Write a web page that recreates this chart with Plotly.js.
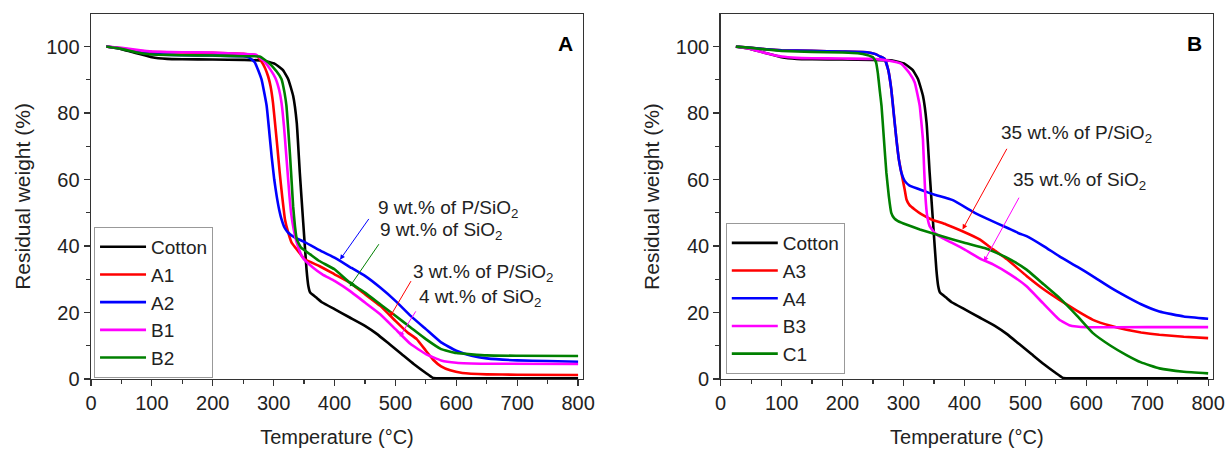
<!DOCTYPE html>
<html><head><meta charset="utf-8">
<script src="https://cdn.plot.ly/plotly-3.0.1.min.js"></script>
<style>html,body{margin:0;padding:0;background:#fff}#chart{width:1226px;height:451px}</style>
</head><body><div id="chart"></div>
<script>
// ---- Panel A data (temperature in °C, residual weight in %) ----
const cottonT = [25,50,75,100,125,150,200,250,282,302,315,324,332,338,343,348.6,354,357,360,370,380,400,425,450,470,490,510,530,550,562,580,650,800];
const cottonW = [100,99.2,98,96.8,96.3,96.2,96.1,96,95.8,94.8,93,90.2,85.2,77,62,47,33,28,26,24.5,23,21,18.5,16,13.5,10.5,7.5,4.5,1.8,0.3,0.2,0.2,0.2];

const a1T = [25,50,75,100,150,200,250,272,280,286,291,295,299,302,306,310,314,318.6,324,329.5,340,351,375,400,425,450,475,500,520,535,550,562,575,590,610,650,700,800];
const a1W = [100,99.5,98.8,98.4,98.2,98.1,97.8,97.3,95.5,93.5,91,88,83,77.5,70,62,55,48,44,41,38.5,36,34,31.5,29,25.5,22,17.5,14,12,8.5,5.8,3.8,2.6,1.8,1.4,1.3,1.2];

const a2T = [25,50,75,100,150,200,250,260,269,280,288.5,293,296.7,301,305,309,313,318,324,335,351,380,400,428,450,475,500,525,550,575,600,625,650,700,750,800];
const a2W = [100,99.4,98.4,97.8,97.4,97.3,97.1,96.7,95.3,90.2,82.2,74,67,60,55,51,48,45.5,44,42.5,41.2,38.3,36.5,33.4,31,27.5,23.5,19,15,11,8.5,7,6.2,5.6,5.4,5.2];

const b1T = [25,50,75,100,150,200,250,270,285,295,303,309,313,317,320,323,326,329,333,338,345,350,365,380,400,425,450,475,500,525,550,575,600,650,800];
const b1W = [100,99.6,99,98.5,98.3,98.2,97.8,97.6,95.5,93,90.5,87,83,76,69,62,55,49.5,45,41,37.5,36,33.5,31.5,29.5,26.5,23,19.5,15,10.5,7.5,5.6,4.9,4.6,4.5];

const b2T = [25,50,75,100,150,200,250,277,291,305,313,318,321,324,327,330,332,335,338,345,360,375,400,425,450,475,500,525,550,575,600,650,700,800];
const b2W = [100,99.3,98.2,97.6,97.4,97.3,97.1,97,95.3,92.5,90.2,86,82.2,75,67,58,52,46,42,39.5,37.5,35.5,33,29,26,22.5,19,15.5,12,9,7.8,7.1,7,6.9];

// ---- Panel B data ----
const a3T = [25,50,75,100,150,200,240,253,262,269,275,280,284,288.5,292.5,296.7,299,302,305,310,318.5,330,346,370,395,425,447,470,502,530,556,585,611,640,666,690,720,760,800];
const a3W = [100,99.6,99.2,98.9,98.7,98.5,98.3,97.8,97,96.3,93,87.2,80,72,66,62,59.8,57,54,52.3,51,49.5,48,46.5,44.6,42,39,36,31,27,23.8,20.5,17.8,16,14.8,14,13.3,12.7,12.3];

const a4T = [25,50,75,100,150,200,240,253,262,269,275,280,284,288.5,292.5,296.7,302,310,335,350,381,417,436,470,491,502,530,556,585,611,640,666,690,720,760,800];
const a4W = [100,99.6,99.2,98.9,98.7,98.5,98.3,97.8,97,96.3,93,87.2,80,72,66,62,59.6,58.2,56.5,55.5,53.8,50,48.3,45.5,43.7,43,40,36.9,33.8,30.9,27.5,24.8,22.5,20.3,18.8,18.1];

const b3T = [25,50,75,100,125,150,200,250,275,296.7,310,318.5,326.7,329,332,334,336,339,343,351,365,379,400,428,447,475,502,529,556,572,584,600,700,800];
const b3W = [100,99.2,98,97,96.6,96.5,96.4,96.3,95.8,94.8,92,89.2,82.2,78,72,63,55,49,46,44,42.3,41,39,36,34.5,31.5,27.9,22.8,17.8,16.2,15.8,15.6,15.6,15.6];

const c1T = [25,50,75,100,150,200,225,240,250,255,258,261,264,268,272,276,280,285,291,300,327,362,400,433,447,475,502,530,556,585,611,640,666,690,720,760,800];
const c1W = [100,99.6,99.1,98.7,98.4,98.2,98,97.5,96.8,95.3,92,87,82.2,72,62,55,50,48.3,47.5,46.8,45,43,41,39.4,38.4,36,32.9,28.5,24.4,19,13.8,10,7.2,5,3.2,2.2,1.7];

const legendA = ['Cotton','A1','A2','B1','B2'];
const legendB = ['Cotton','A3','A4','B3','C1'];
const colors = ['#000000','#ff0000','#0000ff','#ff00ff','#008000'];

const FONT = 'Liberation Sans, Arial, sans-serif';

function tr(x, y, name, color, xa, ya, leg) {
  return {x: x, y: y, name: name, type: 'scatter', mode: 'lines',
          line: {color: color, width: 2.6, shape: 'spline', smoothing: 0.35},
          xaxis: xa, yaxis: ya, legend: leg};
}

const seriesA = [[cottonT,cottonW],[a1T,a1W],[a2T,a2W],[b1T,b1W],[b2T,b2W]];
const seriesB = [[cottonT,cottonW],[a3T,a3W],[a4T,a4W],[b3T,b3W],[c1T,c1W]];
const data = [];
seriesA.forEach((s,i) => data.push(tr(s[0], s[1], legendA[i], colors[i], 'x', 'y', 'legend')));
seriesB.forEach((s,i) => data.push(tr(s[0], s[1], legendB[i], colors[i], 'x2', 'y2', 'legend2')));

function xax(domain, anchor) {
  return {domain: domain, anchor: anchor, range: [0, 808], tick0: 0, dtick: 100,
    ticks: 'outside', ticklen: 6, tickwidth: 1.2, tickcolor: '#333',
    minor: {ticks: 'outside', dtick: 50, ticklen: 4, tickwidth: 1.2, tickcolor: '#333'},
    showline: true, linecolor: '#333', linewidth: 1.4, mirror: true,
    showgrid: false, zeroline: false,
    tickfont: {family: FONT, size: 20, color: '#222'},
    title: {text: 'Temperature (°C)', font: {family: FONT, size: 20, color: '#222'}, standoff: 16}};
}
function yax(anchor) {
  return {domain: [0, 1], anchor: anchor, range: [0, 109.8], tick0: 0, dtick: 20,
    ticks: 'outside', ticklen: 6, tickwidth: 1.2, tickcolor: '#333',
    minor: {ticks: 'outside', dtick: 10, ticklen: 4, tickwidth: 1.2, tickcolor: '#333'},
    showline: true, linecolor: '#333', linewidth: 1.4, mirror: true,
    showgrid: false, zeroline: false,
    tickfont: {family: FONT, size: 20, color: '#222'},
    title: {text: 'Residual weight (%)', font: {family: FONT, size: 21, color: '#222'}, standoff: 10}};
}

function label(text, x, y, xr, yr) {
  return {text: text, x: x, y: y, xref: xr, yref: yr, showarrow: false,
          xanchor: 'center', yanchor: 'middle', font: {family: FONT, size: 19, color: '#222'}};
}
function arrow(hx, hy, tx, ty, color, xr, yr) {
  return {text: '', x: hx, y: hy, ax: tx, ay: ty, xref: xr, yref: yr, axref: xr, ayref: yr,
          showarrow: true, arrowhead: 2, arrowsize: 1, arrowwidth: 1, arrowcolor: color, standoff: 0};
}

const legStyle = (x, y) => ({x: x, y: y, xanchor: 'left', yanchor: 'bottom', bgcolor: '#ffffff',
  bordercolor: '#999', borderwidth: 1, font: {family: FONT, size: 19, color: '#222'},
  traceorder: 'normal', tracegroupgap: 0, itemwidth: 46});

const layout = {
  width: 1226, height: 451,
  margin: {l: 0, r: 0, t: 14, b: 72},
  paper_bgcolor: '#fff', plot_bgcolor: '#fff',
  showlegend: true,
  xaxis: xax([0.0742, 0.4755], 'y'),
  yaxis: yax('x'),
  xaxis2: xax([0.5878, 0.9894], 'y2'),
  yaxis2: yax('x2'),
  legend: legStyle(0.0767, 0.003),
  legend2: legStyle(0.592, 0.0137),
  annotations: [
    {text: '<b>A</b>', x: 780, y: 101, xref: 'x', yref: 'y', showarrow: false, font: {family: FONT, size: 21, color: '#000'}},
    {text: '<b>B</b>', x: 778, y: 101, xref: 'x2', yref: 'y2', showarrow: false, font: {family: FONT, size: 21, color: '#000'}},
    label('9 wt.% of P/SiO<sub>2</sub>', 586, 51, 'x', 'y'),
    label('9 wt.% of SiO<sub>2</sub>', 575, 44.4, 'x', 'y'),
    label('3 wt.% of P/SiO<sub>2</sub>', 644, 32, 'x', 'y'),
    label('4 wt.% of SiO<sub>2</sub>', 640, 24.4, 'x', 'y'),
    arrow(409, 35.9, 458, 48.6, '#0000ff', 'x', 'y'),
    arrow(425, 27.8, 474.5, 41, '#008000', 'x', 'y'),
    arrow(491, 18.7, 527, 29.9, '#ff0000', 'x', 'y'),
    arrow(507, 12.7, 535, 20.8, '#ff00ff', 'x', 'y'),
    label('35 wt.% of P/SiO<sub>2</sub>', 584, 73.6, 'x2', 'y2'),
    label('35 wt.% of SiO<sub>2</sub>', 589, 59.5, 'x2', 'y2'),
    arrow(397, 45, 471, 69.7, '#ff0000', 'x2', 'y2'),
    arrow(432, 35.3, 491, 55, '#ff00ff', 'x2', 'y2')
  ]
};

Plotly.newPlot('chart', data, layout, {displayModeBar: false, staticPlot: true});
</script>
</body></html>
